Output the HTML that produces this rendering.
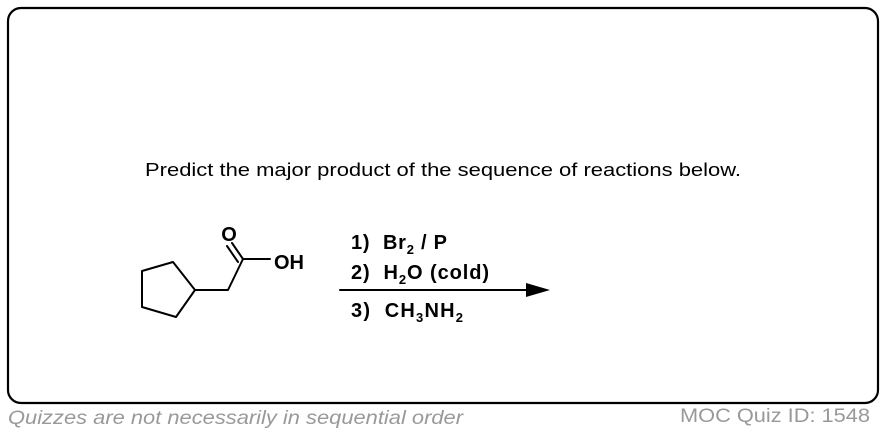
<!DOCTYPE html>
<html><head><meta charset="utf-8"><style>
html,body{margin:0;padding:0;background:#fff;width:886px;height:436px;overflow:hidden}
</style></head><body>
<svg width="886" height="436" viewBox="0 0 886 436" xmlns="http://www.w3.org/2000/svg" font-family="Liberation Sans, Arial, sans-serif">
<rect x="8" y="8" width="870" height="395" rx="13" ry="13" fill="#fff" stroke="#000" stroke-width="2.2"/>
<text x="443" y="176" font-size="18.5" text-anchor="middle" textLength="596" lengthAdjust="spacingAndGlyphs">Predict the major product of the sequence of reactions below.</text>
<g stroke="#000" stroke-width="2" fill="none" stroke-linejoin="round" stroke-linecap="round">
<polygon points="173,262 195,290 176,317 142,307 142,271"/>
<polyline points="195,290 228,290 243,259 270,259"/>
<line x1="243" y1="259" x2="232" y2="243"/>
<line x1="238" y1="262" x2="227" y2="246"/>
<line x1="340" y1="290" x2="530" y2="290"/>
</g>
<polygon points="526,283 550,290 526,297" fill="#000"/>
<g font-weight="bold" font-size="20">
<text x="229" y="241" text-anchor="middle">O</text>
<text x="274" y="269">OH</text>
<text x="351" y="249" textLength="96" lengthAdjust="spacing">1)&#160; Br<tspan font-size="13" dy="5">2</tspan><tspan dy="-5"> / P</tspan></text>
<text x="351" y="279" textLength="138" lengthAdjust="spacing">2)&#160; H<tspan font-size="13" dy="5">2</tspan><tspan dy="-5">O (cold)</tspan></text>
<text x="351" y="317" textLength="112" lengthAdjust="spacing">3)&#160; CH<tspan font-size="13" dy="5">3</tspan><tspan dy="-5">NH</tspan><tspan font-size="13" dy="5">2</tspan></text>
</g>
<text x="8" y="424" font-size="19" font-style="italic" fill="#999" textLength="455" lengthAdjust="spacingAndGlyphs">Quizzes are not necessarily in sequential order</text>
<text x="680" y="422" font-size="19" fill="#999" textLength="190" lengthAdjust="spacingAndGlyphs">MOC Quiz ID: 1548</text>
</svg>
</body></html>
